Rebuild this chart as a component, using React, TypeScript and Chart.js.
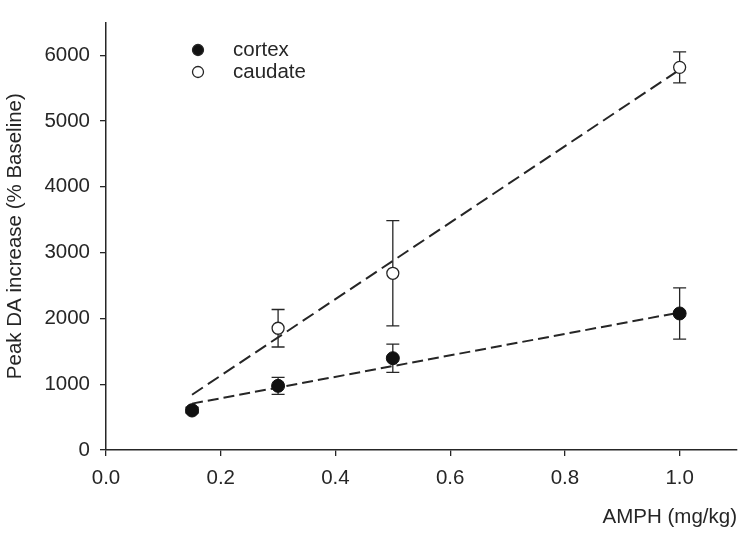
import React, { useEffect, useRef } from "react";
import { Chart, registerables } from "chart.js";

Chart.register(...registerables);

const doses = [0.15, 0.3, 0.5, 1.0];
const cortexMean = [600, 975, 1395, 2075];
const cortexErr = [40, 130, 215, 390];
const caudateMean = [610, 1850, 2685, 5815];
const caudateErr = [40, 285, 800, 235];
const cortexFitX = [0.15, 1.0];
const cortexFitY = [705, 2090];
const caudateFitX = [0.15, 1.0];
const caudateFitY = [840, 5780];
const xTicks = [0, 0.2, 0.4, 0.6, 0.8, 1.0];
const yTicks = [0, 1000, 2000, 3000, 4000, 5000, 6000];
const legendLabels = ["cortex", "caudate"];

const FONT = "'Liberation Sans', Arial, sans-serif";
const INK = "#262626";

const errorBarPlugin = {
  id: "errorBars",
  beforeDatasetsDraw(chart: any) {
    const { ctx, scales } = chart;
    const xs = scales.x;
    const ys = scales.y;
    const draw = (means: number[], errs: number[]) => {
      ctx.save();
      ctx.strokeStyle = INK;
      ctx.lineWidth = 1.3;
      means.forEach((m, i) => {
        const px = xs.getPixelForValue(doses[i]);
        const top = ys.getPixelForValue(m + errs[i]);
        const bot = ys.getPixelForValue(m - errs[i]);
        ctx.beginPath();
        ctx.moveTo(px, top);
        ctx.lineTo(px, bot);
        ctx.moveTo(px - 6.5, top);
        ctx.lineTo(px + 6.5, top);
        ctx.moveTo(px - 6.5, bot);
        ctx.lineTo(px + 6.5, bot);
        ctx.stroke();
      });
      ctx.restore();
    };
    draw(cortexMean, cortexErr);
    draw(caudateMean, caudateErr);
  },
};

const legendPlugin = {
  id: "customLegend",
  afterDraw(chart: any) {
    const { ctx } = chart;
    ctx.save();
    const rows = [
      { label: legendLabels[0], filled: true, y: 50 },
      { label: legendLabels[1], filled: false, y: 72 },
    ];
    rows.forEach((r) => {
      ctx.beginPath();
      ctx.arc(198, r.y, 5.5, 0, Math.PI * 2);
      ctx.fillStyle = r.filled ? "#111" : "#fff";
      ctx.fill();
      ctx.lineWidth = 1.3;
      ctx.strokeStyle = INK;
      ctx.stroke();
      ctx.fillStyle = INK;
      ctx.font = `20.5px ${FONT}`;
      ctx.textBaseline = "middle";
      ctx.textAlign = "left";
      ctx.fillText(r.label, 233, r.y);
    });
    ctx.restore();
  },
};

export default function App() {
  const ref = useRef<HTMLCanvasElement | null>(null);
  useEffect(() => {
    if (!ref.current) return;
    const chart = new Chart(ref.current, {
      type: "scatter",
      data: {
        datasets: [
          {
            label: "caudate fit",
            data: caudateFitX.map((x, i) => ({ x, y: caudateFitY[i] })),
            showLine: true,
            borderColor: INK,
            borderWidth: 2,
            borderDash: [13, 6],
            pointRadius: 0,
            order: 5,
          },
          {
            label: "cortex fit",
            data: cortexFitX.map((x, i) => ({ x, y: cortexFitY[i] })),
            showLine: true,
            borderColor: INK,
            borderWidth: 2,
            borderDash: [11, 5],
            pointRadius: 0,
            order: 4,
          },
          {
            label: "caudate",
            data: doses.map((x, i) => ({ x, y: caudateMean[i] })),
            pointRadius: 6,
            pointBackgroundColor: "#fff",
            pointBorderColor: INK,
            pointBorderWidth: 1.3,
            order: 3,
          },
          {
            label: "cortex",
            data: doses.map((x, i) => ({ x, y: cortexMean[i] })),
            pointRadius: 6.5,
            pointBackgroundColor: "#111",
            pointBorderColor: "#111",
            pointBorderWidth: 1,
            order: 2,
          },
        ],
      },
      options: {
        animation: false,
        responsive: false,
        maintainAspectRatio: false,
        layout: { padding: { top: 7, right: 11, left: 0, bottom: 0 } },
        plugins: {
          legend: { display: false },
          tooltip: { enabled: false },
        },
        scales: {
          x: {
            type: "linear",
            min: 0,
            max: 1.1,
            afterBuildTicks: (s: any) => {
              s.ticks = xTicks.map((v) => ({ value: v }));
            },
            afterFit: (s: any) => {
              s.height = 88;
            },
            ticks: {
              color: INK,
              font: { family: FONT, size: 20.5 },
              padding: 10,
              maxRotation: 0,
              callback: (v: any) => Number(v).toFixed(1),
            },
            grid: {
              display: true,
              drawOnChartArea: false,
              drawTicks: true,
              tickLength: 6,
              color: INK,
              lineWidth: 1.3,
            },
            border: { display: true, color: INK, width: 1.5 },
            title: {
              display: true,
              text: "AMPH (mg/kg)",
              align: "end",
              color: INK,
              font: { family: FONT, size: 20.5 },
              padding: { top: 0, bottom: 8 },
            },
          },
          y: {
            type: "linear",
            min: 0,
            max: 6500,
            afterBuildTicks: (s: any) => {
              s.ticks = yTicks.map((v) => ({ value: v }));
            },
            afterFit: (s: any) => {
              s.width = 106;
            },
            ticks: {
              color: INK,
              font: { family: FONT, size: 20.5 },
              padding: 10,
              callback: (v: any) => String(v),
            },
            grid: {
              display: true,
              drawOnChartArea: false,
              drawTicks: true,
              tickLength: 6,
              color: INK,
              lineWidth: 1.3,
            },
            border: { display: true, color: INK, width: 1.5 },
            title: {
              display: true,
              text: "Peak DA increase (% Baseline)",
              color: INK,
              font: { family: FONT, size: 20.5 },
              padding: { top: 3, bottom: 0 },
            },
          },
        },
      },
      plugins: [errorBarPlugin, legendPlugin],
    } as any);
    return () => chart.destroy();
  }, []);
  return (
    <div style={{ position: "fixed", left: 0, top: 0, width: 748, height: 538, background: "#fff" }}>
      <canvas ref={ref} width={748} height={538} style={{ width: 748, height: 538 }} />
    </div>
  );
}
